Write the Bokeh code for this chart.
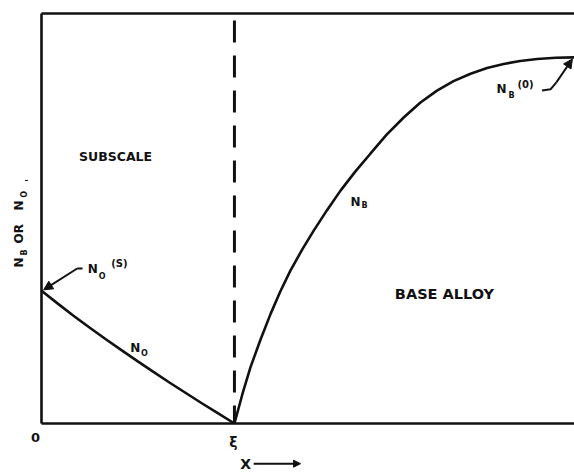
import math

from bokeh.embed import file_html
from bokeh.models import Arrow, Label, NormalHead, Range1d
from bokeh.plotting import figure
from bokeh.resources import INLINE

# Interface position (xi) on the normalised distance axis
xi = 0.362

# Oxygen concentration in the subscale, from the surface (x = 0) to xi
no_x = [0.0, 0.03, 0.06, 0.09, 0.12, 0.15, 0.18, 0.21, 0.24, 0.27, 0.30,
        0.33, 0.362]
no_y = [0.324, 0.293, 0.263, 0.234, 0.206, 0.179, 0.152, 0.126, 0.100,
        0.075, 0.050, 0.026, 0.0]

# Solute concentration in the base alloy, from xi to the bulk value
nb_x = [0.362, 0.377, 0.392, 0.411, 0.430, 0.448, 0.467, 0.489, 0.511,
        0.536, 0.561, 0.589, 0.617, 0.648, 0.680, 0.711, 0.742, 0.773,
        0.805, 0.836, 0.867, 0.898, 0.930, 0.965, 1.0]
nb_y = [0.0, 0.072, 0.137, 0.205, 0.268, 0.322, 0.373, 0.424, 0.471,
        0.521, 0.568, 0.615, 0.658, 0.705, 0.747, 0.783, 0.812, 0.835,
        0.853, 0.867, 0.877, 0.884, 0.889, 0.892, 0.893]

FONT = "DejaVu Sans"
INK = "#111111"

# The plotting frame spans the whole canvas; the box of the diagram is
# x in [0, 1], y in [0, 1], and the margins hold the axis annotations.
p = figure(
    width=574, height=472,
    x_range=Range1d(-41 / 533, 1.0), y_range=Range1d(-49 / 410, 423 / 410),
    output_backend="svg", toolbar_location=None,
    min_border=0, x_axis_location=None, y_axis_location=None,
)
p.grid.visible = False
p.outline_line_color = None
p.background_fill_color = "white"
p.border_fill_color = "white"

# Box: left, bottom and top edges
p.line([0, 0], [0, 1], line_color=INK, line_width=2.6)
p.line([0, 1], [0, 0], line_color=INK, line_width=2.6)
p.line([0, 1], [1, 1], line_color=INK, line_width=2.6)

# Interface marker
p.line([xi, xi], [0.983, 0.0], line_color=INK, line_width=3,
       line_dash="22 13")

# Concentration profiles
p.line(no_x, no_y, line_color=INK, line_width=2.6)
p.line(nb_x, nb_y, line_color=INK, line_width=2.6)


def label(x, y, text, size, angle=0.0):
    p.add_layout(Label(
        x=x, y=y, text=text, angle=angle,
        text_font=FONT, text_font_size=f"{size}px", text_font_style="bold",
        text_color=INK, text_align="center", text_baseline="middle",
    ))


def arrow(x0, y0, x1, y1, size=9):
    p.add_layout(Arrow(end=NormalHead(size=size, fill_color=INK,
                                      line_color=INK),
                       x_start=x0, y_start=y0, x_end=x1, y_end=y1,
                       line_color=INK, line_width=2))


# Region names
label(0.139, 0.651, "SUBSCALE", 12.5)
label(0.756, 0.315, "BASE ALLOY", 14.5)

# Curve labels
label(0.176, 0.183, "N", 12)
label(0.193, 0.170, "O", 8)
label(0.589, 0.541, "N", 12)
label(0.606, 0.532, "B", 8)

# Surface value of N_O with leader
label(0.096, 0.376, "N", 12)
label(0.114, 0.359, "O", 8)
label(0.146, 0.390, "(S)", 10)
p.line([0.077, 0.067], [0.378, 0.378], line_color=INK, line_width=2)
arrow(0.067, 0.378, 0.004, 0.326)

# Bulk value of N_B with leader
label(0.863, 0.817, "N", 12)
label(0.882, 0.800, "B", 8)
label(0.908, 0.828, "(0)", 10)
p.line([0.939, 0.955, 0.966], [0.812, 0.815, 0.832], line_color=INK,
       line_width=2)
arrow(0.966, 0.832, 0.996, 0.889)

# Axis annotations
label(-0.011, -0.034, "0", 13)
label(0.360, -0.045, "ξ", 14)
label(0.383, -0.098, "X", 14)
arrow(0.398, -0.098, 0.486, -0.098, size=7)

# Vertical axis title: N_B OR N_O'
up = math.pi / 2
label(-0.043, 0.393, "N", 12, up)
label(-0.031, 0.417, "B", 8, up)
label(-0.043, 0.463, "OR", 12, up)
label(-0.043, 0.532, "N", 12, up)
label(-0.031, 0.559, "O", 8, up)
label(-0.022, 0.593, "'", 10, up)

open("out.html", "w").write(file_html(p, INLINE))
